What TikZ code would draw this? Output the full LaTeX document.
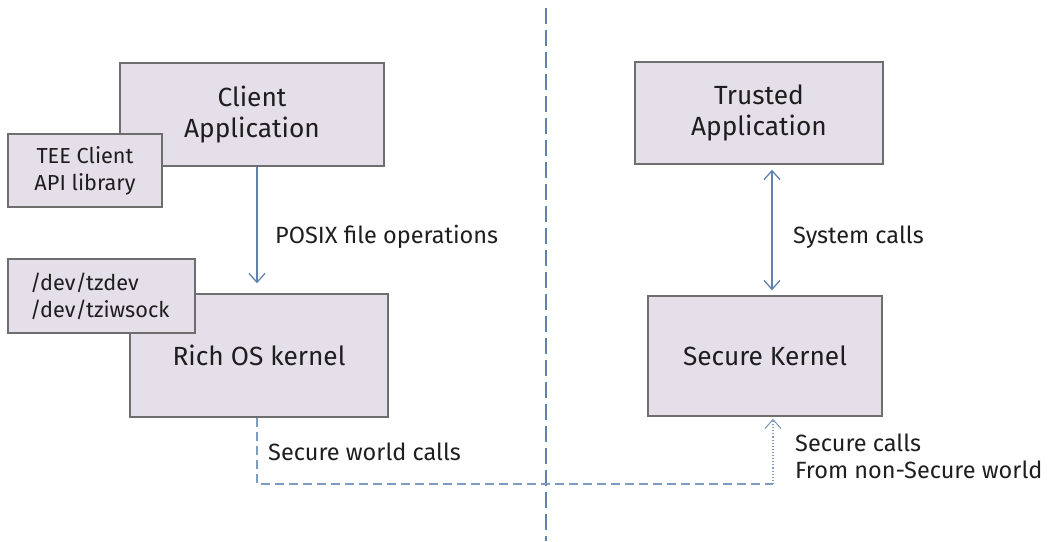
\documentclass[tikz,border=0pt]{standalone}
\usepackage{fontspec}
\setmainfont{Fira Sans}
\usetikzlibrary{arrows.meta}
\definecolor{boxfill}{RGB}{228,223,233}
\definecolor{boxline}{RGB}{110,110,112}
\definecolor{arrowblue}{RGB}{95,130,175}
\definecolor{txt}{RGB}{30,30,30}
\tikzset{
  box/.style={draw=boxline, fill=boxfill, line width=1.4pt, inner sep=0pt, align=center, text=txt,
    font=\fontsize{26.3}{31}\selectfont},
  smallbox/.style={box, font=\fontsize{21.7}{27}\selectfont},
  lbl/.style={anchor=west, inner sep=0pt, text=txt, font=\fontsize{23.5}{27}\selectfont, align=left},
  flow/.style={draw=arrowblue, line width=1.3pt, -{Straight Barb[length=9pt,width=16pt,line width=1.3pt]}},
  twoflow/.style={draw=arrowblue, line width=1.3pt, {Straight Barb[length=9pt,width=16pt,line width=1.3pt]}-{Straight Barb[length=9pt,width=16pt,line width=1.3pt]}},
  divider/.style={draw=arrowblue, line width=1.2pt, dash pattern=on 16pt off 6pt},
  swc/.style={draw=arrowblue!80, line width=1.1pt, dash pattern=on 9pt off 5pt},
  dotflow/.style={draw=arrowblue!80, line width=1.1pt, dotted, -{Straight Barb[length=9pt,width=16pt,line width=1.1pt]}}
}
\begin{document}
\begin{tikzpicture}[x=1pt,y=-1pt]
\useasboundingbox (0,0) rectangle (1049,541);
% divider
\coordinate (dtop) at (546,8);
\coordinate (dbot) at (546,541);
\draw[divider] (dtop) -- (dbot);
% boxes
\node[box, minimum width=264pt, minimum height=103pt] (client) at (252,114.5) {Client\\Application};
\node[smallbox, minimum width=154pt, minimum height=73pt] (tee) at (85,170.5) {TEE Client\\API library};
\node[box, minimum width=258pt, minimum height=123pt] (rich) at (259,355.5) {Rich OS kernel};
\node[smallbox, minimum width=187pt, minimum height=74pt, text width=143pt, align=left] (dev) at (101.5,296) {/dev/tzdev\\/dev/tziwsock};
\node[box, minimum width=248pt, minimum height=102pt] (ta) at (759,113) {Trusted\\Application};
\node[box, minimum width=234pt, minimum height=120pt] (sk) at (765,356) {Secure Kernel};
% connectors
\draw[flow, shorten >=10pt] (client.south -| 257,0) -- (rich.north -| 257,0);
\draw[twoflow, shorten <=5pt, shorten >=5pt] (ta.south -| 772,0) -- (sk.north -| 772,0);
\coordinate (c1) at (257,484);
\coordinate (c2) at (773,484);
\draw[swc] (rich.south -| 257,0) -- (c1) -- (c2);
\draw[dotflow, shorten >=2pt] (c2) -- (sk.south -| 773,0);
% labels
\node[lbl] (posix) at (275,237) {POSIX file operations};
\node[lbl] (sys) at (793,237) {System calls};
\node[lbl] (swl) at (268,452) {Secure world calls};
\node[lbl] (scl) at (795,456.5) {Secure calls\\From non-Secure world};
\end{tikzpicture}
\end{document}
